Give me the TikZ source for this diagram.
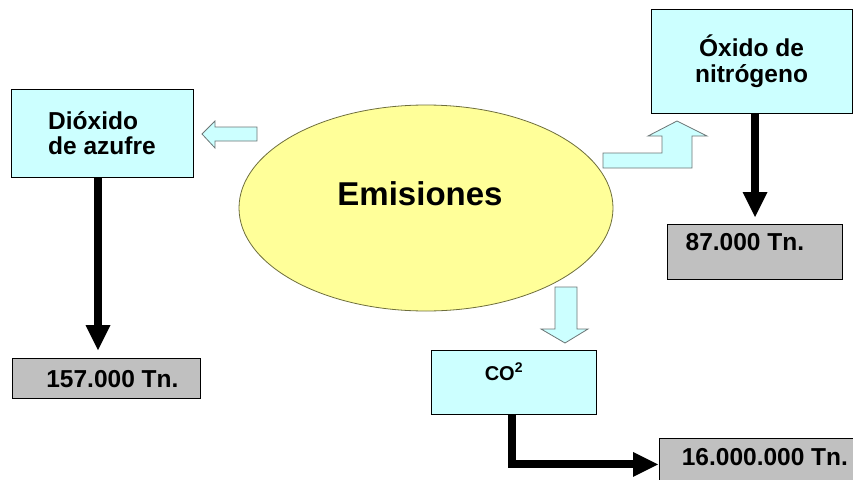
\documentclass[tikz,border=0pt]{standalone}
\usepackage{fontspec}
\setmainfont{Liberation Sans}
\usetikzlibrary{shapes.geometric,arrows.meta}
\definecolor{cyanbg}{HTML}{CCFFFF}
\definecolor{graybg}{HTML}{C0C0C0}
\definecolor{yellowbg}{HTML}{FFFF99}
\definecolor{ellline}{HTML}{6E6E3C}
\definecolor{hollowline}{HTML}{6C7676}
\tikzset{
	emibox/.style={draw=black, fill=cyanbg, line width=0.8pt, inner sep=0pt, font=\fontsize{24.5}{25.5}\selectfont\bfseries},
	numbox/.style={draw=black, fill=graybg, line width=0.8pt, inner xsep=0pt, inner ysep=0pt, anchor=north west, font=\fontsize{24.5}{27}\selectfont\bfseries},
	hollow/.style={draw=hollowline, fill=cyanbg, line width=0.8pt, line join=miter},
	flow/.style={line width=8pt, -{Triangle[length=25pt, width=25pt, line width=0pt]}}
}
\begin{document}
\begin{tikzpicture}[x=1pt, y=-1pt]
				%%%%% START %%%%%
				\useasboundingbox (0, 0) rectangle (853, 479);
				
				% centro
				\node[ellipse, draw=ellline, fill=yellowbg, line width=0.8pt, minimum width=374pt, minimum height=206pt, inner sep=0pt,
					text height=21pt, text depth=27pt, font=\fontsize{33}{36}\selectfont\bfseries] (emis) at (426, 208) {Emisiones\hspace*{12pt}};
				
				% gases
				\node[emibox, minimum width=182pt, minimum height=88pt, align=left] (dioxido) at (102, 133) {Dióxido\\de azufre};
				\node[emibox, minimum width=201pt, minimum height=104pt, align=center] (oxido) at (751.5, 61) {Óxido de\\nitrógeno};
				\node[emibox, minimum width=165pt, anchor=north west, text height=30pt, text depth=34pt,
					font=\fontsize{20}{22}\selectfont\bfseries] (co) at (431, 350) {CO\textsuperscript{2}\hspace*{20pt}};
				
				% toneladas
				\node[numbox, minimum width=188pt, text height=29pt, text depth=11pt] (n157) at (12, 358) {\hspace*{12pt}157.000 Tn.};
				\node[numbox, minimum width=175pt, text height=26pt, text depth=29pt] (n87) at (667, 224) {87.000 Tn.\hspace*{20pt}};
				\node[numbox, minimum width=211pt, text height=27pt, text depth=25pt] (n16) at (659, 438) {16.000.000 Tn.};
				
				% flechas huecas
				\draw[hollow] (257, 127) -- (215, 127) -- (215, 121) -- (202, 134) -- (215, 148) -- (215, 141) -- (257, 141) -- cycle;
				\draw[hollow] (603, 153) -- (662, 153) -- (662, 136) -- (648, 136) -- (677, 121) -- (707, 136) -- (692, 136) -- (692, 168) -- (603, 168) -- cycle;
				\draw[hollow] (555, 287) -- (577, 287) -- (577, 329) -- (588, 329) -- (565, 343) -- (541, 329) -- (555, 329) -- cycle;
				
				% flechas negras
				\draw[flow, shorten >=8pt] ([xshift=-4pt]dioxido.south) -- ([xshift=-4pt]dioxido.south |- n157.north);
				\draw[flow, shorten >=7pt] ([xshift=3.5pt]oxido.south) -- ([xshift=3.5pt]oxido.south |- n87.north);
				\draw[flow, shorten >=1pt] ([xshift=-1.5pt]co.south) |- (n16.west);
				%%%%% END %%%%%
\end{tikzpicture}
\end{document}
